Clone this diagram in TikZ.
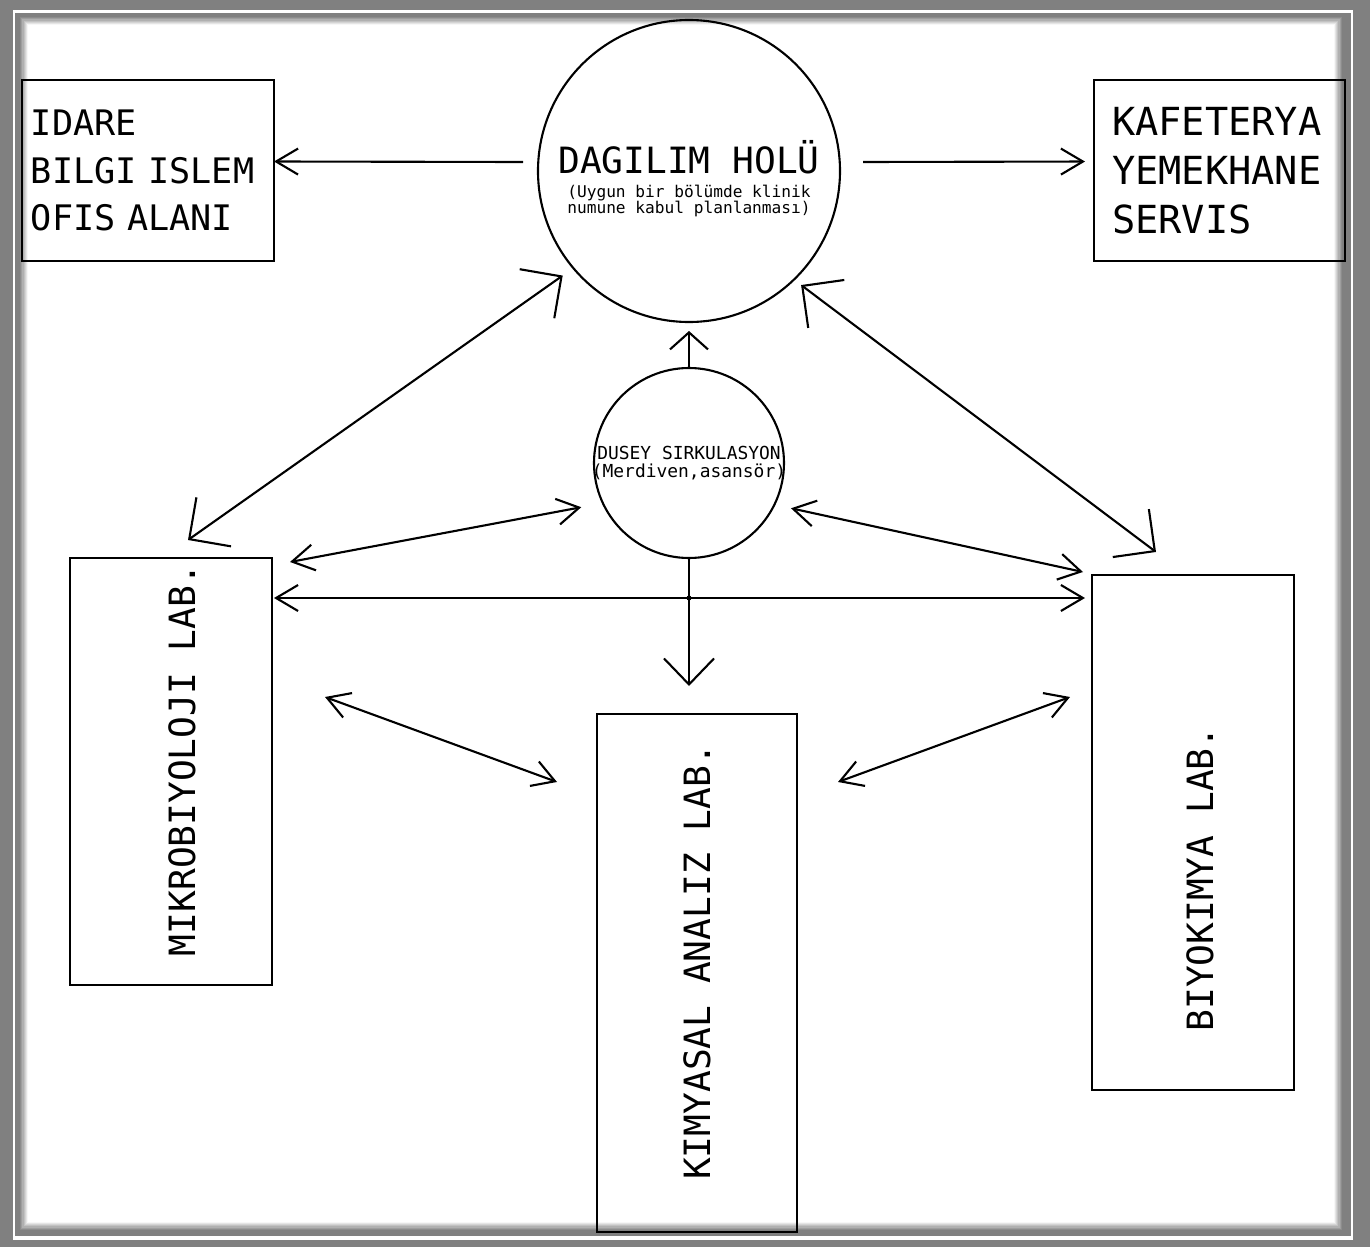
\documentclass[tikz,border=0pt]{standalone}
\usepackage{fontspec}
\newfontfamily\cadfont[WordSpace={1,0,0}]{DejaVu Sans Mono}
\usepackage{tikz}
\usetikzlibrary{arrows.meta,positioning,calc}
\tikzset{
  labbox/.style={draw=black,line width=0.6pt,inner sep=0pt,outer sep=0pt},
  holcirc/.style={draw=black,circle,line width=0.6pt,inner sep=0pt,outer sep=0pt},
  cadtxt/.style={inner sep=0pt,align=left},
  varr/.style={-{Straight Barb[length=2.2mm,width=2.6mm]},line width=0.6pt},
  vdarr/.style={{Straight Barb[length=2.2mm,width=2.6mm]}-{Straight Barb[length=2.2mm,width=2.6mm]},line width=0.6pt},
  vbig/.style={{Straight Barb[length=3mm,width=6mm]}-{Straight Barb[length=3mm,width=6mm]},line width=0.6pt}
}

\begin{document}
\begin{tikzpicture}
  % frame
  \fill[black!50] (0,0) rectangle (13.70,-12.47);
  \fill[white] (0.13,-0.10) rectangle (13.53,-12.40);
  \fill[black!50] (0.15,-0.13) rectangle (13.51,-12.36);
  \foreach \k in {0,...,6}{
    \pgfmathtruncatemacro\shd{45-7*\k}
    \fill[black!\shd] (0.20+0.012*\k,-0.17-0.012*\k) rectangle (13.42-0.012*\k,-12.30+0.012*\k);
  }
  \fill[white] (0.28,-0.25) rectangle (13.34,-12.22);

  % halls
  \node[holcirc,minimum size=3.02cm] (dag) at (6.89,-1.71) {};
  \node[cadtxt,font={\cadfont\fontsize{10.3}{12}\selectfont}] at ([yshift=0.135cm]dag.center) {DAGILIM HOLÜ};
  \node[cadtxt,align=center,font={\cadfont\fontsize{4.6}{4.7}\selectfont}] at ([yshift=-0.30cm]dag.center)
    {(Uygun bir bölümde klinik\\numune kabul planlanması)};
  \node[holcirc,minimum size=1.90cm] (dusey) at (6.89,-4.63) {};
  \node[cadtxt,align=center,font={\cadfont\fontsize{5.1}{4.9}\selectfont}] at (dusey.center)
    {DUSEY SIRKULASYON\\(Merdiven,asansör)};

  % units
  \node[labbox,minimum width=2.52cm,minimum height=1.81cm,text width=2.34cm,align=left,
    font={\cadfont\fontsize{10}{13.6}\selectfont}] (idare) at (1.48,-1.705) {IDARE\\BILGI ISLEM\\OFIS ALANI};
  \node[labbox,minimum width=2.51cm,minimum height=1.81cm,text width=2.15cm,align=left,
    font={\cadfont\fontsize{11}{14}\selectfont}] (kafe) at (12.195,-1.705) {KAFETERYA\\YEMEKHANE\\SERVIS};
  \node[labbox,minimum width=2.02cm,minimum height=4.27cm] (mikro) at (1.71,-7.715) {};
  \node[labbox,minimum width=2.00cm,minimum height=5.18cm] (kimya) at (6.97,-9.73) {};
  \node[labbox,minimum width=2.02cm,minimum height=5.15cm] (biyo) at (11.93,-8.325) {};
  \node[cadtxt,rotate=90,font={\cadfont\fontsize{10.3}{12}\selectfont}] at (1.82,-7.60) {MIKROBIYOLOJI LAB.};
  \node[cadtxt,rotate=90,font={\cadfont\fontsize{10.3}{12}\selectfont}] at (6.97,-9.62) {KIMYASAL ANALIZ LAB.};
  \node[cadtxt,rotate=90,font={\cadfont\fontsize{10.3}{12}\selectfont}] at (12.00,-8.79) {BIYOKIMYA LAB.};

  % connectors
  \draw[varr] ([shift={(-0.15,0.09)}]dag.west) -- ([yshift=0.09cm]idare.east);
  \draw[varr,shorten >=0.09cm] ([shift={(0.23,0.09)}]dag.east) -- ([yshift=0.09cm]kafe.west);
  \draw[vbig,shorten <=0.13cm] (dag.220) -- ([shift={(0.17,0.18)}]mikro.north);
  \draw[vbig,shorten <=0.09cm] (dag.314) -- ([shift={(-0.37,0.23)}]biyo.north);
  \draw[-{Straight Barb[length=1.7mm,width=3.8mm]},line width=0.6pt,shorten >=0.09cm] (dusey.north) -- (dag.south);
  \draw[-{Straight Barb[length=2.6mm,width=5mm]},line width=0.6pt,shorten >=0.28cm] (dusey.south) -- (dusey.south |- kimya.north);
  \coordinate (jn) at (dusey.south |- 0,-5.98);
  \fill (jn) circle (0.025);
  \draw[vdarr,shorten >=0.07cm] ([xshift=0.02cm]jn -| mikro.east) -- (jn -| biyo.west);
  \draw[vdarr,shorten >=0.22cm] ([shift={(0.18,-0.04)}]mikro.north east) -- (dusey.205);
  \draw[vdarr,shorten <=0.17cm] (dusey.334) -- ([shift={(-0.09,0.03)}]biyo.north west);
  \draw[vdarr] ([shift={(0.53,-1.39)}]mikro.north east) -- ([shift={(-0.40,-0.68)}]kimya.north west);
  \draw[vdarr] ([shift={(-0.22,-1.22)}]biyo.north west) -- ([shift={(0.41,-0.68)}]kimya.north east);
\end{tikzpicture}
\end{document}
